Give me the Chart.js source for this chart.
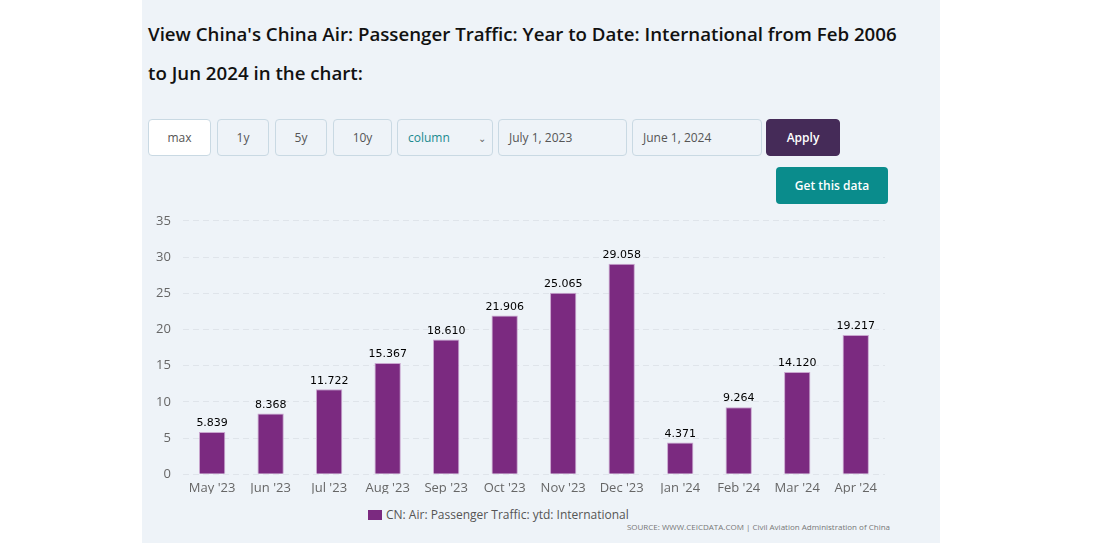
<!DOCTYPE html>
<html>
<head>
<meta charset="utf-8">
<script src="https://cdn.jsdelivr.net/npm/chart.js@4.4.1/dist/chart.umd.min.js"></script>
<style>
  html, body { margin: 0; padding: 0; background: #fff; width: 1113px; height: 543px; overflow: hidden; }
  body { font-family: "Open Sans", "Noto Sans", sans-serif; }
  #panel { position: absolute; left: 142px; top: 0; width: 798px; height: 543px; background: #eef3f8; }
  h1 { position: absolute; left: 6px; top: 14px; margin: 0; width: 760px; font-size: 18.7px; font-weight: 600; line-height: 39px; color: #111; }
  .ctl { position: absolute; top: 119px; height: 37px; box-sizing: border-box; border: 1px solid #c9d9e3; border-radius: 4px;
         font-size: 12px; color: #555; display: flex; align-items: center; justify-content: center; }
  .ctl.left { justify-content: flex-start; padding-left: 10px; }
  #apply { background: #452b58; color: #fff; border-color: #452b58; font-weight: 600; }
  #getdata { position: absolute; left: 634px; top: 167px; width: 112px; height: 37px; border-radius: 4px; background: #0a8c8c;
             color: #fff; font-size: 12px; font-weight: 600; display: flex; align-items: center; justify-content: center; }
  #wrap { position: absolute; left: 0; top: 201px; width: 760px; height: 293px; }
  #legend { position: absolute; left: 226px; top: 506px; font-size: 12px; color: #555; display: flex; align-items: center; }
  #legend span.box { display: inline-block; width: 14px; height: 10px; background: #7b2a80; margin-right: 4px; }
  #source { position: absolute; right: 50px; top: 521px; font-size: 8px; color: #777; }
</style>
</head>
<body>
<div id="panel">
  <h1>View China's China Air: Passenger Traffic: Year to Date: International from Feb 2006 to Jun 2024 in the chart:</h1>
  <div class="ctl" style="left:6px;width:63px;background:#fff;">max</div>
  <div class="ctl" style="left:75px;width:52px;">1y</div>
  <div class="ctl" style="left:133px;width:52px;">5y</div>
  <div class="ctl" style="left:191px;width:59px;">10y</div>
  <div class="ctl left" style="left:255px;width:96px;color:#1a8a8f;justify-content:space-between;padding-right:6px;">column <span style="color:#666;font-size:10px;">&#8964;</span></div>
  <div class="ctl left" style="left:356px;width:129px;">July 1, 2023</div>
  <div class="ctl left" style="left:490px;width:130px;">June 1, 2024</div>
  <div class="ctl" id="apply" style="left:624px;width:74px;">Apply</div>
  <div id="getdata">Get this data</div>
  <div id="wrap"><canvas id="chart"></canvas></div>
  <div id="legend"><span class="box"></span>CN: Air: Passenger Traffic: ytd: International</div>
  <div id="source">SOURCE: WWW.CEICDATA.COM | Civil Aviation Administration of China</div>
</div>
<script>
  // Datos
  const months = ["May '23", "Jun '23", "Jul '23", "Aug '23", "Sep '23", "Oct '23",
                  "Nov '23", "Dec '23", "Jan '24", "Feb '24", "Mar '24", "Apr '24"];
  const traffic = [5.839, 8.368, 11.722, 15.367, 18.610, 21.906, 25.065, 29.058, 4.371, 9.264, 14.120, 19.217];
  const yTicks = [0, 5, 10, 15, 20, 25, 30, 35];

  // Etiquetas de valor encima de cada barra
  const valueLabels = {
    id: 'valueLabels',
    afterDatasetsDraw(chart) {
      const ctx = chart.ctx;
      const meta = chart.getDatasetMeta(0);
      ctx.save();
      ctx.font = '11px "DejaVu Sans", sans-serif';
      ctx.fillStyle = '#000';
      ctx.textAlign = 'center';
      ctx.textBaseline = 'bottom';
      meta.data.forEach((bar, i) => {
        ctx.fillText(traffic[i].toFixed(3), bar.x, bar.y - 3);
      });
      ctx.restore();
    }
  };

  new Chart(document.getElementById('chart'), {
    type: 'bar',
    data: {
      labels: months,
      datasets: [{
        label: 'CN: Air: Passenger Traffic: ytd: International',
        data: traffic,
        backgroundColor: '#7b2a80',
        borderColor: '#c9a6cf',
        borderWidth: 1,
        barPercentage: 0.45,
        categoryPercentage: 1
      }]
    },
    options: {
      responsive: true,
      maintainAspectRatio: false,
      animation: false,
      layout: { padding: { left: 2, right: 17, top: 12, bottom: 0 } },
      plugins: {
        legend: { display: false },
        tooltip: { enabled: false }
      },
      scales: {
        x: {
          grid: { display: false },
          border: { display: false },
          ticks: { color: '#666', font: { family: 'Open Sans', size: 13 }, maxRotation: 0, padding: -2 }
        },
        y: {
          min: 0,
          max: 35,
          afterBuildTicks: axis => { axis.ticks = yTicks.map(v => ({ value: v })); },
          grid: { color: '#dfe4ea', drawTicks: false },
          border: { display: false, dash: [6, 4] },
          ticks: { color: '#666', font: { family: 'Open Sans', size: 13 }, padding: 12 }
        }
      }
    },
    plugins: [valueLabels]
  });
</script>
</body>
</html>
